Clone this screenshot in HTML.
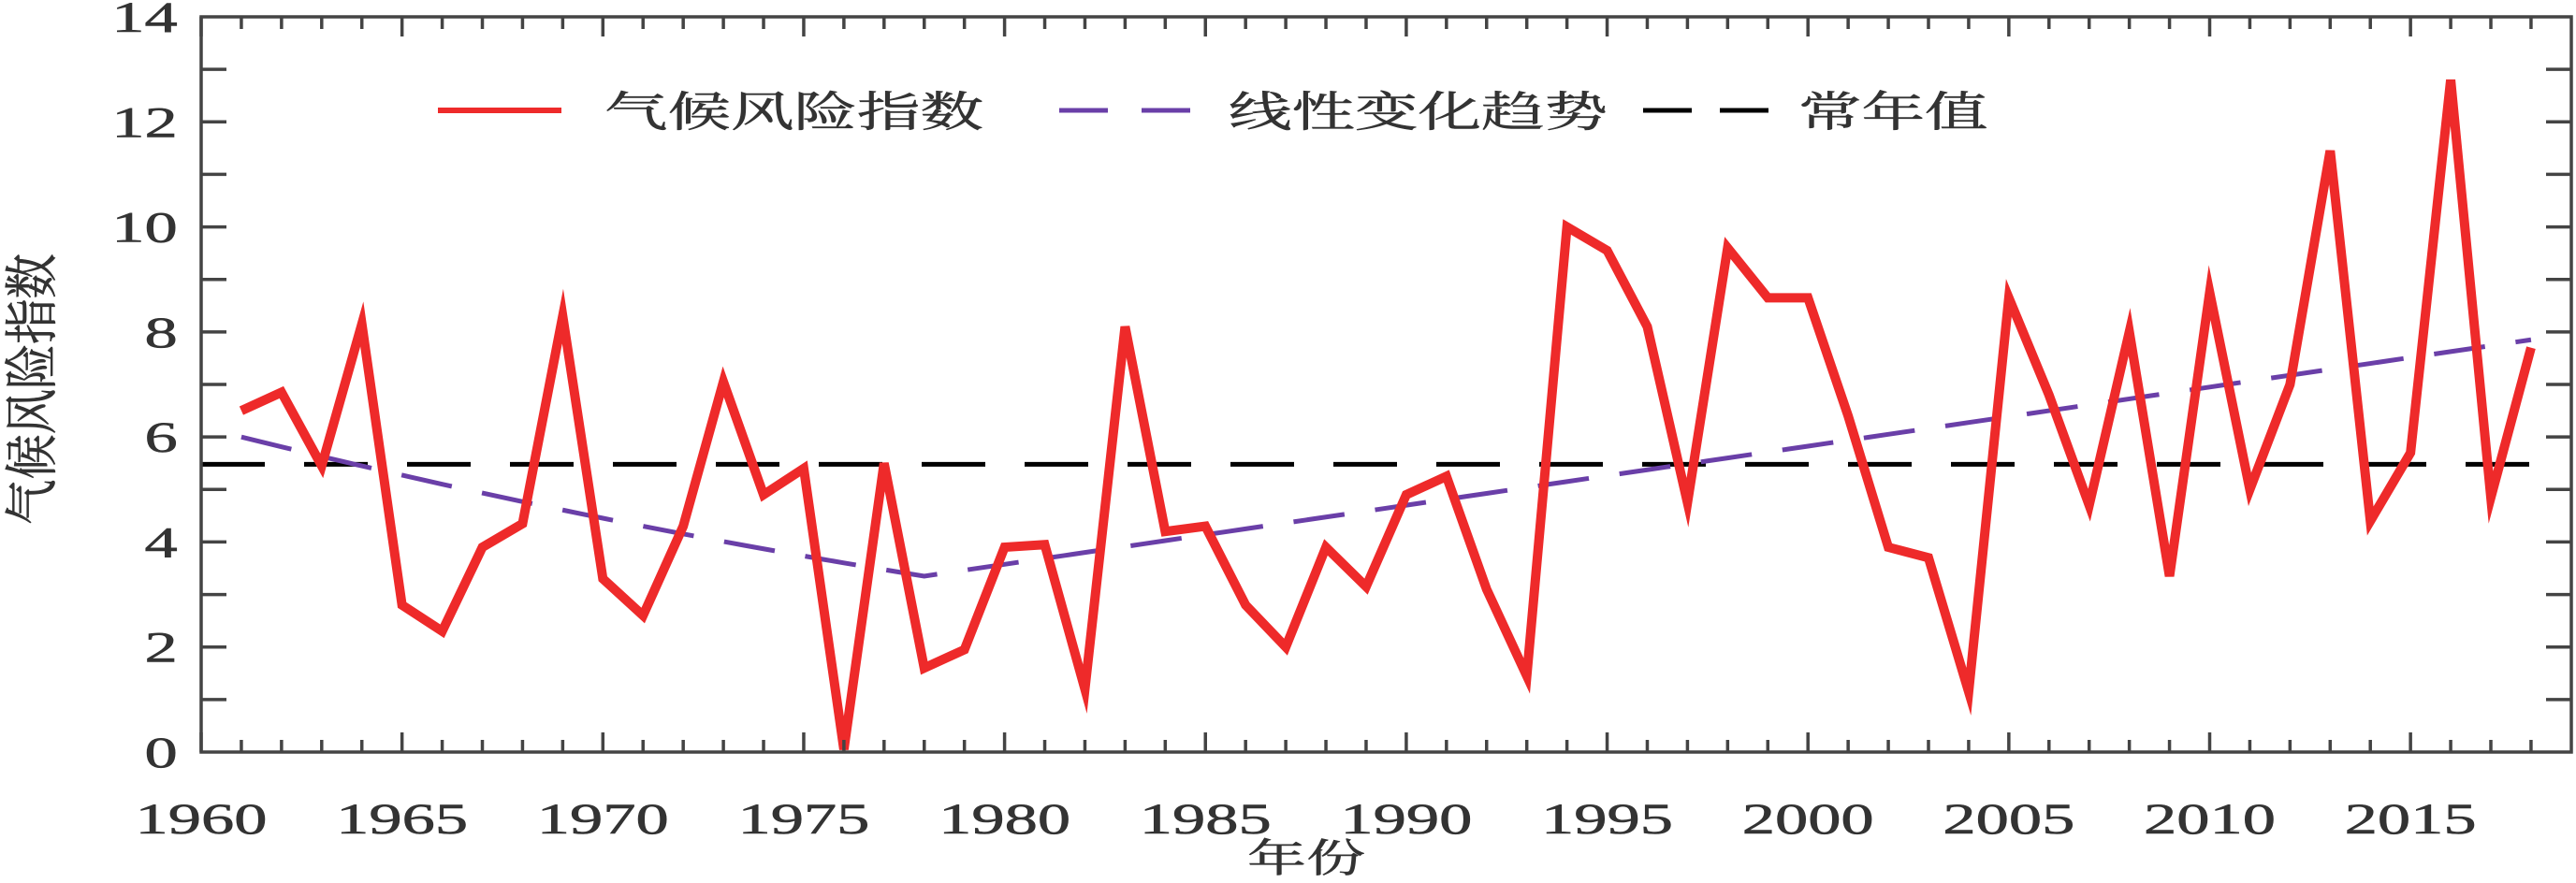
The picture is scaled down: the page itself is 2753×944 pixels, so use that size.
<!DOCTYPE html>
<html><head><meta charset="utf-8"><style>html,body{margin:0;padding:0;background:#fff}svg{display:block}</style></head>
<body>
<svg id="s" xmlns="http://www.w3.org/2000/svg" width="2753" height="944" viewBox="0 0 2753 944"></svg>
<script>
const s=document.getElementById('s');const NS='http://www.w3.org/2000/svg';
function el(t,a,txt){const e=document.createElementNS(NS,t);for(const k in a)e.setAttribute(k,a[k]);if(txt!==undefined)e.textContent=txt;s.appendChild(e);return e;}
const L=215,R=2748,T=18,B=804,PX=42.93,PY=(804-18)/14;
const X=y=>L+(y-1960)*PX, Y=v=>B-v*PY;
const SX=1.5;
const data=[6.5,6.85,5.45,8.15,2.8,2.3,3.9,4.35,8.3,3.3,2.6,4.3,7.05,4.9,5.4,0.05,5.5,1.6,1.95,3.9,3.95,1.2,8.1,4.2,4.3,2.8,2.0,3.9,3.15,4.9,5.25,3.1,1.45,10.0,9.55,8.1,4.75,9.6,8.65,8.65,6.4,3.9,3.7,1.15,8.65,6.8,4.7,8.0,3.35,8.75,5.0,7.0,11.45,4.4,5.7,12.8,4.85,7.7];
el('line',{x1:L,x2:R-30,y1:Y(5.48),y2:Y(5.48),stroke:'#000','stroke-width':5,'stroke-dasharray':'68 42'});
let tp=[];for(let y=1961;y<=2018;y+=0.5){let v=y<=1978?3.35+(1978-y)*(2.65/17)-0.002*(y-1961)*(1978-y):3.35+(y-1978)*0.1125;tp.push(X(y)+','+Y(v));}
el('polyline',{points:tp.join(' '),fill:'none',stroke:'#6a3fa8','stroke-width':5,'stroke-dasharray':'55 33'});
el('polyline',{points:data.map((v,i)=>X(1961+i)+','+Y(v)).join(' '),fill:'none',stroke:'#ee2a2a','stroke-width':10,'stroke-linejoin':'miter','stroke-miterlimit':6});
el('rect',{x:L,y:T,width:R-L,height:B-T,fill:'none',stroke:'#444','stroke-width':3.5});
for(let y=1960;y<=2018;y++){const x=X(y),len=(y%5==0)?21:13;
 el('line',{x1:x,x2:x,y1:B,y2:B-len,stroke:'#444','stroke-width':3.5});
 el('line',{x1:x,x2:x,y1:T,y2:T+len,stroke:'#444','stroke-width':3.5});}
for(let v=1;v<14;v++){const y=Y(v);
 el('line',{x1:L,x2:L+27,y1:y,y2:y,stroke:'#444','stroke-width':3.5});
 el('line',{x1:R,x2:R-27,y1:y,y2:y,stroke:'#444','stroke-width':3.5});}
const F='"Liberation Serif","Noto Serif CJK SC",serif';
const TS={'font-family':F,fill:'#333',stroke:'#333','stroke-width':0.6};
function tx(a,t){return el('text',Object.assign({},TS,a),t);}
for(let v=0;v<=14;v+=2){tx({x:126.5,y:Y(v)+16,transform:`scale(${SX},1)`,'text-anchor':'end','font-size':47},String(v));}
for(let y=1960;y<=2015;y+=5){tx({x:X(y)/SX,y:891,transform:`scale(${SX},1)`,'text-anchor':'middle','font-size':47},String(y));}
tx({x:1396/SX,y:932,transform:`scale(${SX},1)`,'text-anchor':'middle','font-size':42},'年份');
tx({transform:'translate(54,416) rotate(-90) scale(1.05,1.25)','text-anchor':'middle','font-size':46},'气候风险指数');
el('line',{x1:468,x2:600,y1:118,y2:118,stroke:'#ee2a2a','stroke-width':6});
el('line',{x1:1132,x2:1273,y1:118,y2:118,stroke:'#6a3fa8','stroke-width':5,'stroke-dasharray':'52 36'});
el('line',{x1:1756,x2:1890,y1:118,y2:118,stroke:'#000','stroke-width':5,'stroke-dasharray':'52 30'});
[['气候风险指数',646],['线性变化趋势',1313],['常年值',1922]].forEach(([t,x])=>tx({x:x/SX,y:135,transform:`scale(${SX},1)`,'font-size':45},t));
</script>
</body></html>
